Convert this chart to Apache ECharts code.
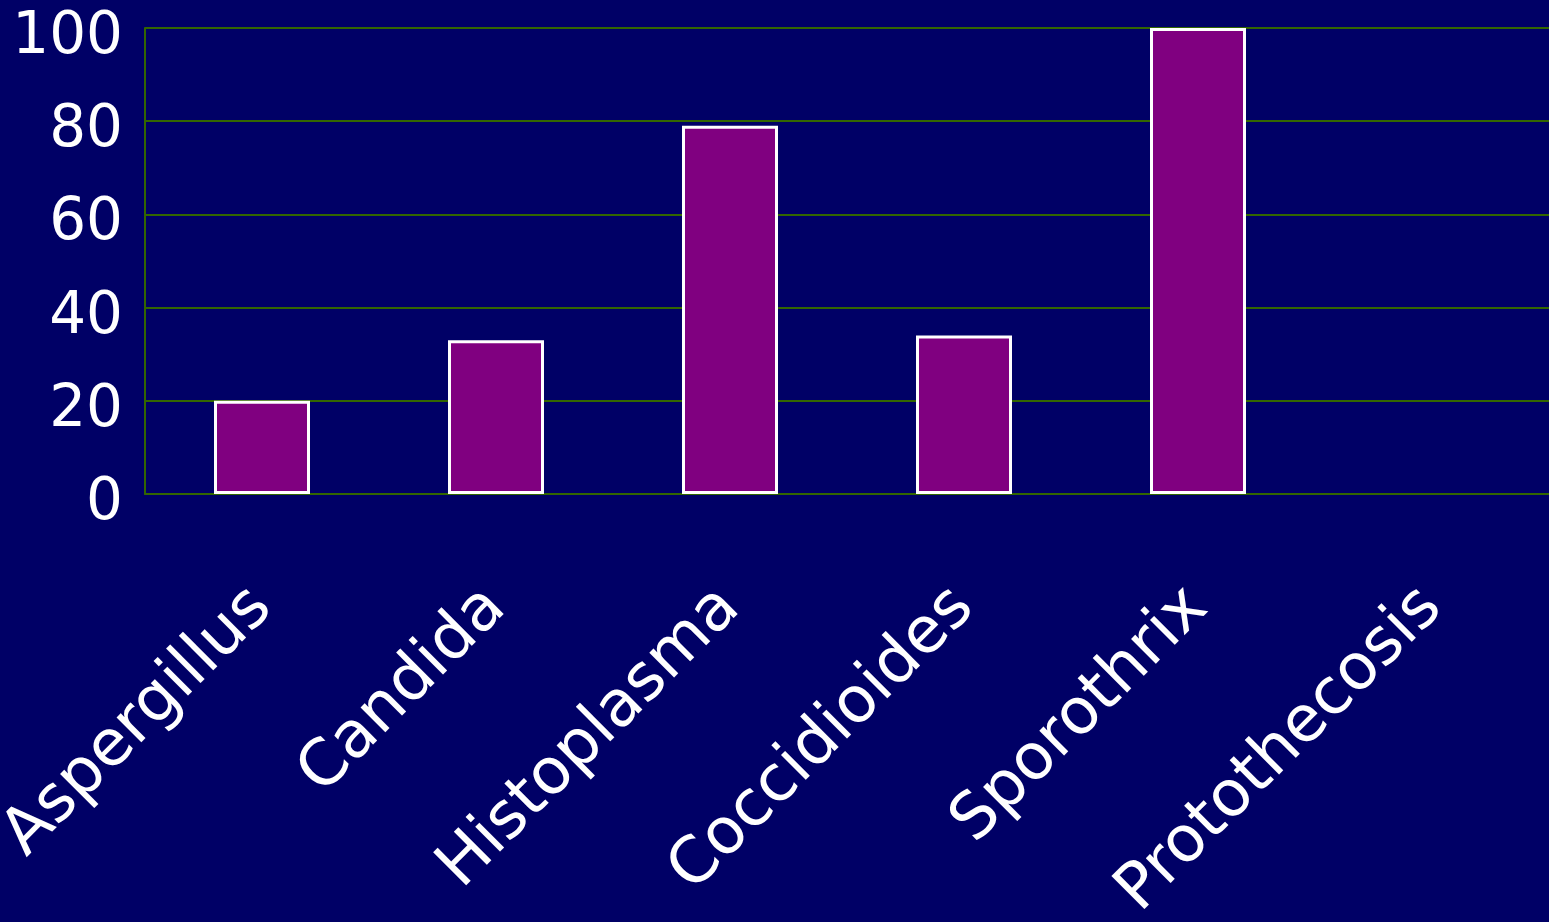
<!DOCTYPE html>
<html>
<head>
<meta charset="utf-8">
<script src="https://cdn.jsdelivr.net/npm/echarts@6/dist/echarts.min.js"></script>
<style>
  html, body { margin: 0; padding: 0; background: #000066; }
  #chart { width: 1549px; height: 922px; }
</style>
</head>
<body>
<div id="chart"></div>
<script>
const categories = ['Aspergillus', 'Candida', 'Histoplasma', 'Coccidioides', 'Sporothrix', 'Protothecosis'];
const values = [20, 33, 79, 34, 100, 0];
const yTicks = [0, 20, 40, 60, 80, 100];

const myChart = echarts.init(document.getElementById('chart'));
const gridGreen = '#336600';
const option = {
  backgroundColor: '#000066',
  animation: false,
  grid: { left: 145, right: 0, top: 28, bottom: 428, containLabel: false, outerBoundsMode: 'none' },
  xAxis: {
    type: 'category',
    data: categories,
    axisLine: { show: true, lineStyle: { color: gridGreen, width: 2 } },
    axisTick: { show: false },
    axisLabel: {
      rotate: 45,
      margin: 104,
      color: '#ffffff',
      fontSize: 64,
      fontFamily: 'DejaVu Sans'
    }
  },
  yAxis: {
    type: 'value',
    min: yTicks[0],
    max: yTicks[yTicks.length - 1],
    interval: 20,
    axisLine: { show: true, lineStyle: { color: gridGreen, width: 2 } },
    axisTick: { show: false },
    splitLine: { lineStyle: { color: gridGreen, width: 2 } },
    axisLabel: {
      margin: 22,
      formatter: '{n|{value}}',
      rich: {
        n: {
          color: '#ffffff',
          fontSize: 58,
          fontFamily: 'DejaVu Sans',
          padding: [20, 0, 0, 0]
        }
      }
    }
  },
  series: [{
    type: 'bar',
    // zero-height bars get no outline
    data: values.map(v => v === 0 ? { value: v, itemStyle: { borderWidth: 0 } } : v),
    barWidth: 96,
    itemStyle: { color: '#800080', borderColor: '#ffffff', borderWidth: 3 }
  }]
};
myChart.setOption(option);
</script>
</body>
</html>
